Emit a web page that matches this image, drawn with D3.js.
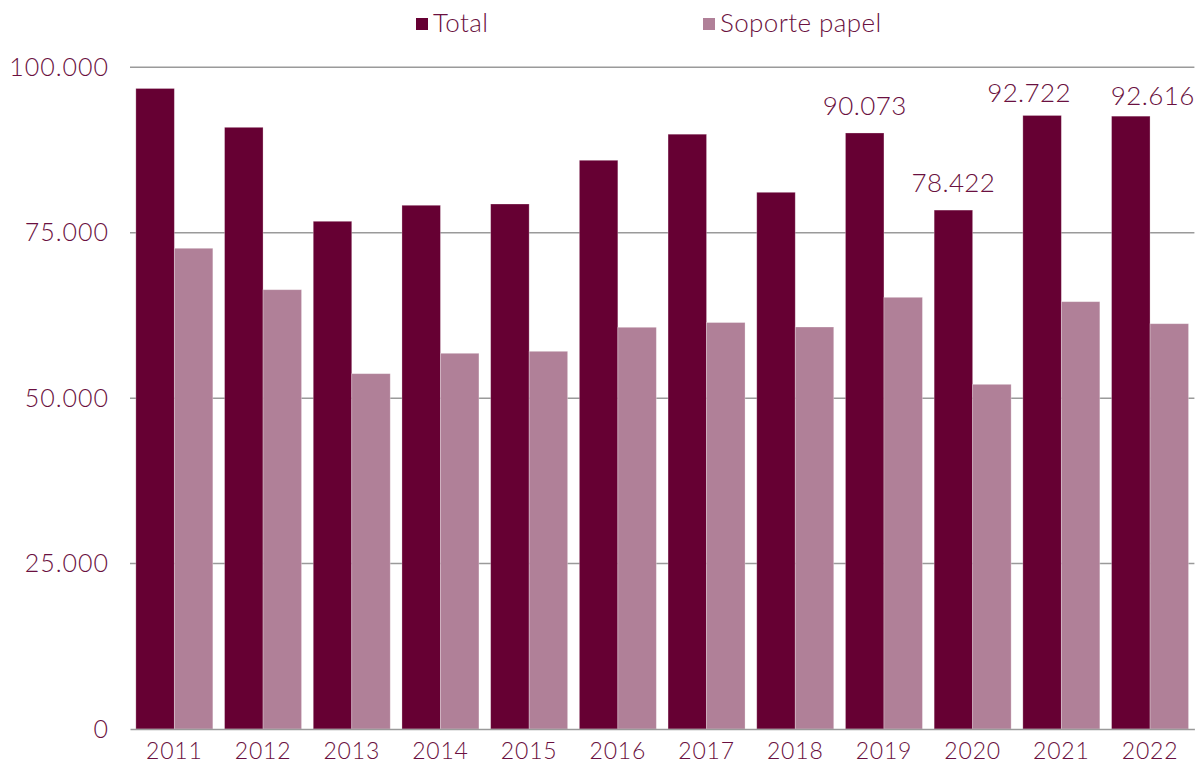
<!DOCTYPE html>
<html>
<head>
<meta charset="utf-8">
<script src="https://cdn.jsdelivr.net/npm/d3@7"></script>
<style>
  html, body { margin: 0; padding: 0; background: #fff; }
  svg text { font-family: Lato, "Open Sans", sans-serif; font-weight: 300; fill: #6a1040; }
</style>
</head>
<body>
<svg id="chart" width="1198" height="768"></svg>
<script>
const years = ["2011","2012","2013","2014","2015","2016","2017","2018","2019","2020","2021","2022"];
const seriesNames = ["Total", "Soporte papel"];
const totalValues = [96800, 90930, 76730, 79150, 79340, 85950, 89890, 81110, 90073, 78422, 92722, 92616];
const papelValues = [72650, 66390, 53700, 56780, 57080, 60710, 61430, 60750, 65240, 52090, 64580, 61250];
const yTicks = [0, 25000, 50000, 75000, 100000];
const labeledYears = ["2019", "2020", "2021", "2022"];

const colors = { "Total": "#660033", "Soporte papel": "#b08098" };
// manual label nudges (as in the original)
const labelNudge = { "2019": [0, -18], "2020": [0, -18], "2021": [-13, -13], "2022": [22, -11] };

const svg = d3.select("#chart");
const mLeft = 130, mRight = 1194.4, mTop = 67.3, mBottom = 729;

const x0 = d3.scaleBand().domain(years).range([mLeft, mRight]).paddingInner(0.132).paddingOuter(0.066);
const x1 = d3.scaleBand().domain(seriesNames).range([0, x0.bandwidth()]);
const y = d3.scaleLinear().domain([0, 100000]).range([mBottom, mTop]);

const fmt = v => d3.format(",")(v).replace(/,/g, ".");

// gridlines
svg.append("g").selectAll("line").data(yTicks.filter(t => t > 0)).join("line")
  .attr("x1", mLeft).attr("x2", mRight)
  .attr("y1", d => y(d)).attr("y2", d => y(d))
  .attr("stroke", "#9a9a9a").attr("stroke-width", 1.5);

// y axis
const yAxis = d3.axisLeft(y).tickValues(yTicks).tickSize(0).tickPadding(21).tickFormat(fmt);
const gy = svg.append("g").attr("transform", `translate(${mLeft},0)`).call(yAxis);
gy.select(".domain").remove();
gy.selectAll("text").attr("font-size", 25).attr("letter-spacing", 1)
  .style("font-family", "Lato, sans-serif");

// bars
const rows = years.map((yr, i) => ({ year: yr, vals: [
  { key: "Total", v: totalValues[i] }, { key: "Soporte papel", v: papelValues[i] } ] }));

const groups = svg.append("g").selectAll("g").data(rows).join("g")
  .attr("transform", d => `translate(${x0(d.year)},0)`);
groups.selectAll("rect").data(d => d.vals).join("rect")
  .attr("x", d => x1(d.key)).attr("width", x1.bandwidth())
  .attr("y", d => y(d.v)).attr("height", d => y(0) - y(d.v))
  .attr("fill", d => colors[d.key])
  .attr("stroke", "#ffffff").attr("stroke-opacity", 0.35).attr("stroke-width", 0.8);

// x axis
const xAxis = d3.axisBottom(x0).tickSize(0).tickPadding(14);
const gx = svg.append("g").attr("transform", `translate(0,${mBottom})`).call(xAxis);
gx.select(".domain").attr("stroke", "#9a9a9a").attr("stroke-width", 1.5);
gx.selectAll("text").attr("font-size", 23).attr("letter-spacing", 0.8)
  .style("font-family", "Lato, sans-serif");

// value labels
svg.append("g").selectAll("text").data(rows.filter(r => labeledYears.includes(r.year))).join("text")
  .attr("x", d => x0(d.year) + x1("Total") + x1.bandwidth() / 2 + labelNudge[d.year][0])
  .attr("y", d => y(d.vals[0].v) + labelNudge[d.year][1])
  .attr("text-anchor", "middle").attr("font-size", 26).attr("letter-spacing", 0.4)
  .text(d => fmt(d.vals[0].v));

// legend
const legendX = [416, 703];
const lg = svg.append("g").selectAll("g").data(seriesNames).join("g")
  .attr("transform", (d, i) => `translate(${legendX[i]},0)`);
lg.append("rect").attr("x", 0).attr("y", 18).attr("width", 12).attr("height", 12)
  .attr("fill", d => colors[d]);
lg.append("text").attr("x", 17).attr("y", 32).attr("font-size", 26).attr("letter-spacing", 0.4).text(d => d);
</script>
</body>
</html>
